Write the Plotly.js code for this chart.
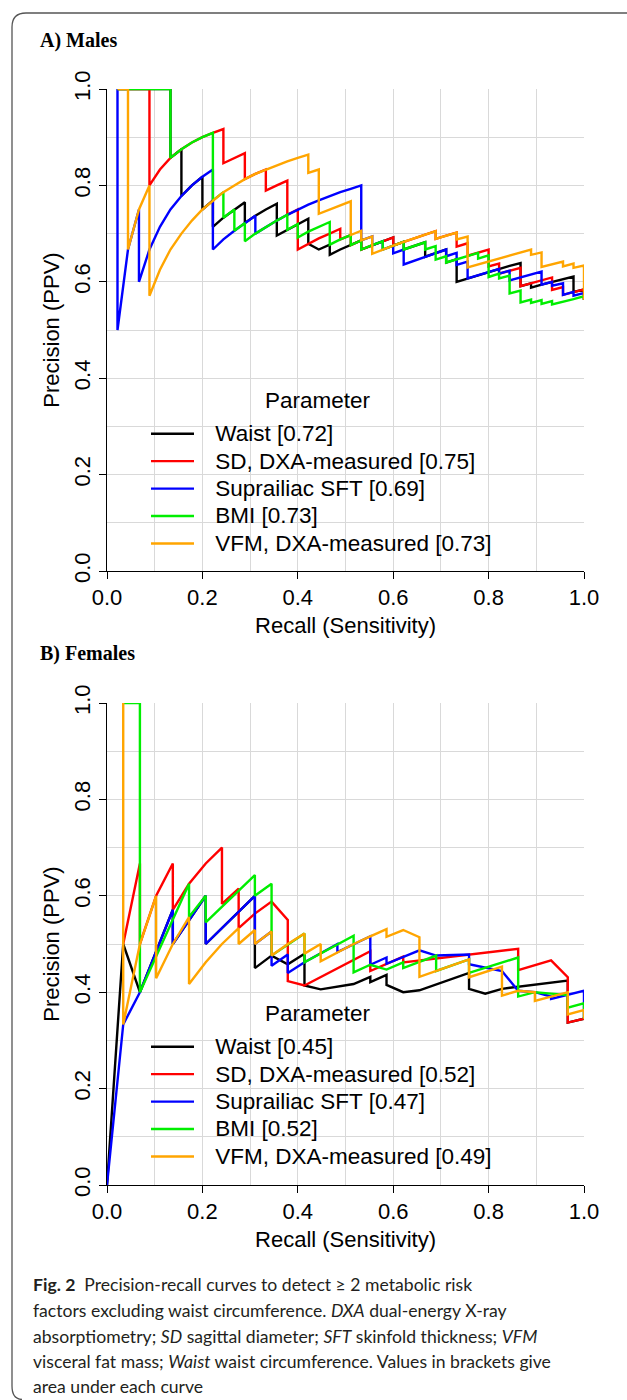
<!DOCTYPE html>
<html>
<head>
<meta charset="utf-8">
<script src="https://cdn.plot.ly/plotly-3.0.1.min.js"></script>
<style>html,body{margin:0;padding:0;background:#fff;}#chart{width:627px;height:1400px;}</style>
</head>
<body>
<div id="chart"></div>
<script>
// ---------- Data ----------
const seriesNames = ["Waist", "SD, DXA-measured", "Suprailiac SFT", "BMI", "VFM, DXA-measured"];
const malesAUC = ["0.72", "0.75", "0.69", "0.73", "0.73"];
const femalesAUC = ["0.45", "0.52", "0.47", "0.52", "0.49"];
const xTickLabels = ["0.0", "0.2", "0.4", "0.6", "0.8", "1.0"];
const yTickLabels = ["0.0", "0.2", "0.4", "0.6", "0.8", "1.0"];
const legendTitle = "Parameter";

// A) Males
const malesWaistRecall    = [0.022,0.133,0.133,0.156,0.156,0.178,0.2,0.2,0.222,0.222,0.244,0.267,0.289,0.289,0.311,0.333,0.356,0.356,0.378,0.4,0.422,0.422,0.444,0.467,0.467,0.489,0.511,0.533,0.533,0.556,0.578,0.6,0.6,0.622,0.622,0.644,0.667,0.667,0.689,0.711,0.711,0.733,0.733,0.756,0.778,0.8,0.822,0.844,0.867,0.867,0.889,0.889,0.911,0.933,0.956,0.978,0.978,1,1];
const malesWaistPrecision = [1,1,0.857,0.875,0.778,0.8,0.818,0.75,0.769,0.714,0.733,0.75,0.765,0.722,0.737,0.75,0.762,0.696,0.708,0.72,0.731,0.679,0.667,0.677,0.656,0.667,0.676,0.686,0.667,0.676,0.684,0.692,0.675,0.683,0.667,0.674,0.682,0.652,0.66,0.667,0.64,0.647,0.6,0.607,0.614,0.621,0.627,0.633,0.639,0.591,0.597,0.588,0.594,0.6,0.606,0.611,0.579,0.584,0.563];
const malesSDRecall    = [0.022,0.089,0.089,0.111,0.133,0.156,0.178,0.2,0.222,0.244,0.244,0.267,0.289,0.289,0.311,0.333,0.333,0.356,0.378,0.378,0.4,0.4,0.422,0.444,0.467,0.489,0.489,0.511,0.511,0.533,0.533,0.556,0.578,0.6,0.6,0.622,0.644,0.667,0.689,0.689,0.711,0.733,0.733,0.756,0.756,0.778,0.8,0.8,0.822,0.822,0.844,0.867,0.867,0.889,0.911,0.933,0.933,0.956,0.956,0.978,1,1];
const malesSDPrecision = [1,1,0.8,0.833,0.857,0.875,0.889,0.9,0.909,0.917,0.846,0.857,0.867,0.813,0.824,0.833,0.789,0.8,0.81,0.739,0.75,0.667,0.679,0.69,0.7,0.71,0.688,0.697,0.676,0.686,0.667,0.676,0.684,0.692,0.675,0.683,0.69,0.698,0.705,0.689,0.696,0.702,0.673,0.68,0.654,0.66,0.667,0.632,0.638,0.617,0.623,0.629,0.591,0.597,0.603,0.609,0.583,0.589,0.573,0.579,0.584,0.563];
const malesSFTRecall    = [0.022,0.022,0.044,0.067,0.067,0.089,0.111,0.133,0.156,0.178,0.2,0.222,0.222,0.244,0.267,0.289,0.311,0.311,0.333,0.356,0.378,0.4,0.422,0.444,0.467,0.489,0.511,0.533,0.533,0.556,0.556,0.578,0.578,0.6,0.6,0.622,0.622,0.644,0.667,0.689,0.711,0.711,0.733,0.733,0.756,0.756,0.778,0.8,0.822,0.822,0.844,0.844,0.867,0.889,0.911,0.911,0.933,0.933,0.956,0.956,0.978,0.978,1,1];
const malesSFTPrecision = [1,0.5,0.667,0.75,0.6,0.667,0.714,0.75,0.778,0.8,0.818,0.833,0.667,0.688,0.706,0.722,0.737,0.7,0.714,0.727,0.739,0.75,0.76,0.769,0.778,0.786,0.793,0.8,0.686,0.694,0.676,0.684,0.667,0.675,0.659,0.667,0.636,0.644,0.652,0.66,0.667,0.653,0.66,0.635,0.642,0.607,0.614,0.621,0.627,0.617,0.623,0.603,0.609,0.615,0.621,0.594,0.6,0.592,0.597,0.573,0.579,0.571,0.577,0.563];
const malesBMIRecall    = [0.022,0.133,0.133,0.156,0.178,0.2,0.222,0.222,0.244,0.244,0.267,0.267,0.289,0.289,0.311,0.333,0.356,0.378,0.378,0.4,0.4,0.422,0.444,0.467,0.467,0.489,0.511,0.511,0.533,0.533,0.556,0.578,0.578,0.6,0.622,0.622,0.644,0.667,0.667,0.689,0.689,0.711,0.711,0.733,0.756,0.778,0.778,0.8,0.8,0.822,0.822,0.844,0.844,0.867,0.867,0.889,0.889,0.911,0.911,0.933,0.933,0.956,0.978,1,1];
const malesBMIPrecision = [1,1,0.857,0.875,0.889,0.9,0.909,0.769,0.786,0.733,0.75,0.706,0.722,0.684,0.7,0.714,0.727,0.739,0.708,0.72,0.692,0.704,0.714,0.724,0.677,0.688,0.697,0.676,0.686,0.667,0.676,0.684,0.667,0.675,0.683,0.667,0.674,0.682,0.667,0.674,0.646,0.653,0.64,0.647,0.654,0.66,0.648,0.655,0.61,0.617,0.607,0.613,0.576,0.582,0.557,0.563,0.556,0.562,0.554,0.56,0.553,0.558,0.564,0.57,0.563];
const malesVFMRecall    = [0.022,0.044,0.044,0.067,0.089,0.089,0.111,0.133,0.156,0.178,0.2,0.222,0.244,0.267,0.289,0.311,0.333,0.356,0.378,0.4,0.422,0.422,0.444,0.444,0.467,0.489,0.511,0.511,0.533,0.533,0.556,0.556,0.578,0.6,0.622,0.644,0.667,0.689,0.689,0.711,0.733,0.733,0.756,0.756,0.778,0.8,0.822,0.844,0.867,0.889,0.889,0.911,0.911,0.933,0.956,0.956,0.978,0.978,1.0,1.0];
const malesVFMPrecision = [1,1,0.667,0.75,0.8,0.571,0.625,0.667,0.7,0.727,0.75,0.769,0.786,0.8,0.813,0.824,0.833,0.842,0.85,0.857,0.864,0.826,0.833,0.741,0.75,0.759,0.767,0.697,0.706,0.686,0.694,0.658,0.667,0.675,0.683,0.69,0.698,0.705,0.689,0.696,0.702,0.688,0.694,0.63,0.636,0.643,0.649,0.655,0.661,0.667,0.656,0.661,0.631,0.636,0.642,0.632,0.638,0.629,0.634,0.563];

// B) Females
const femalesWaistRecall    = [0,0.034,0.069,0.138,0.138,0.207,0.207,0.31,0.31,0.345,0.379,0.414,0.414,0.448,0.517,0.552,0.552,0.586,0.586,0.621,0.655,0.759,0.759,0.793,0.828,0.966,0.966,1];
const femalesWaistPrecision = [0,0.5,0.4,0.571,0.5,0.6,0.5,0.6,0.45,0.476,0.458,0.48,0.414,0.406,0.417,0.432,0.421,0.436,0.415,0.4,0.404,0.44,0.407,0.397,0.407,0.424,0.337,0.345];
const femalesSDRecall    = [0.034,0.069,0.069,0.103,0.138,0.138,0.172,0.207,0.241,0.241,0.276,0.276,0.31,0.345,0.379,0.379,0.414,0.552,0.552,0.621,0.621,0.862,0.862,0.931,0.966,0.966,1];
const femalesSDPrecision = [0.5,0.667,0.5,0.6,0.667,0.571,0.625,0.667,0.7,0.583,0.615,0.533,0.563,0.588,0.55,0.423,0.414,0.485,0.444,0.474,0.462,0.49,0.446,0.466,0.431,0.337,0.345];
const femalesSFTRecall    = [0,0.034,0.069,0.138,0.138,0.207,0.207,0.31,0.31,0.345,0.345,0.379,0.379,0.414,0.483,0.483,0.552,0.552,0.586,0.586,0.655,0.69,0.759,0.759,0.828,0.862,0.897,0.931,0.931,1,1];
const femalesSFTPrecision = [0,0.333,0.4,0.571,0.5,0.6,0.5,0.6,0.5,0.526,0.455,0.478,0.44,0.462,0.5,0.483,0.516,0.457,0.472,0.459,0.487,0.476,0.478,0.458,0.444,0.403,0.4,0.391,0.386,0.403,0.345];
const femalesBMIRecall    = [0.034,0.069,0.069,0.172,0.172,0.207,0.207,0.31,0.31,0.345,0.345,0.414,0.414,0.517,0.517,0.552,0.586,0.621,0.621,0.69,0.69,0.759,0.759,0.862,0.862,0.897,0.931,0.966,0.966,1,1];
const femalesBMIPrecision = [1,1,0.4,0.625,0.556,0.6,0.545,0.643,0.6,0.625,0.476,0.522,0.462,0.517,0.441,0.457,0.447,0.462,0.45,0.476,0.444,0.468,0.44,0.472,0.391,0.4,0.397,0.394,0.368,0.377,0.345];
const femalesVFMRecall    = [0.034,0.034,0.069,0.103,0.103,0.138,0.172,0.172,0.207,0.241,0.276,0.276,0.31,0.31,0.345,0.345,0.379,0.414,0.414,0.448,0.448,0.517,0.552,0.586,0.586,0.621,0.655,0.655,0.759,0.759,0.828,0.828,0.862,0.897,0.897,0.966,0.966,1,1];
const femalesVFMPrecision = [1,0.333,0.5,0.6,0.429,0.5,0.556,0.417,0.462,0.5,0.533,0.5,0.529,0.5,0.526,0.476,0.5,0.522,0.48,0.5,0.464,0.5,0.516,0.531,0.515,0.529,0.514,0.432,0.468,0.431,0.453,0.393,0.403,0.4,0.382,0.4,0.354,0.363,0.345];

const colors = ["#000000", "#ff0000", "#0000ff", "#00ee00", "#ffa500"];

// ---------- Geometry helpers (page px -> paper) ----------
const W = 627, H = 1400;
const px = x => x / W;
const py = y => 1 - y / H;

const malesRecall = [malesWaistRecall, malesSDRecall, malesSFTRecall, malesBMIRecall, malesVFMRecall];
const malesPrecision = [malesWaistPrecision, malesSDPrecision, malesSFTPrecision, malesBMIPrecision, malesVFMPrecision];
const femalesRecall = [femalesWaistRecall, femalesSDRecall, femalesSFTRecall, femalesBMIRecall, femalesVFMRecall];
const femalesPrecision = [femalesWaistPrecision, femalesSDPrecision, femalesSFTPrecision, femalesBMIPrecision, femalesVFMPrecision];

const NB = "\u00a0\u00a0\u2006";
function legendLabel(name, auc) {
  return '<span style="font-size:22.5px">' + NB + name + " [" + auc + "]</span>";
}

const traces = [];
for (let i = 0; i < 5; i++) {
  traces.push({x: malesRecall[i], y: malesPrecision[i], type: "scatter", mode: "lines",
    name: legendLabel(seriesNames[i], malesAUC[i]), line: {color: colors[i], width: 2.4},
    xaxis: "x", yaxis: "y", legend: "legend", hoverinfo: "skip"});
}
for (let i = 0; i < 5; i++) {
  traces.push({x: femalesRecall[i], y: femalesPrecision[i], type: "scatter", mode: "lines",
    name: legendLabel(seriesNames[i], femalesAUC[i]), line: {color: colors[i], width: 2.4},
    xaxis: "x2", yaxis: "y2", legend: "legend2", hoverinfo: "skip"});
}

const axisFont = {family: "Liberation Sans, Arial, sans-serif", size: 22, color: "#000"};
const tickVals = [0, 0.2, 0.4, 0.6, 0.8, 1.0];
const xDomain = [px(107), px(584)];
const gridColor = "#d9d9d9";

function xAxis(anchor) {
  return {domain: xDomain, range: [0, 1], anchor: anchor, tickvals: tickVals, ticktext: xTickLabels,
    ticks: "outside", ticklen: 7, tickwidth: 1, tickcolor: "#000", showline: true, linecolor: "#000", linewidth: 1,
    showgrid: true, gridcolor: gridColor, gridwidth: 1, zeroline: false, tickfont: axisFont,
    minor: {dtick: 0.1, tick0: 0, showgrid: true, gridcolor: gridColor, gridwidth: 1, ticks: ""},
    title: {text: "Recall (Sensitivity)", font: axisFont, standoff: 8}, automargin: false, fixedrange: true};
}
function yAxis(anchor, domain) {
  return {domain: domain, range: [0, 1], anchor: anchor, tickvals: tickVals, ticktext: yTickLabels, tickangle: -90,
    ticks: "outside", ticklen: 7, tickwidth: 1, tickcolor: "#000", showline: true, linecolor: "#000", linewidth: 1,
    showgrid: true, gridcolor: gridColor, gridwidth: 1, zeroline: false, tickfont: axisFont,
    minor: {dtick: 0.1, tick0: 0, showgrid: true, gridcolor: gridColor, gridwidth: 1, ticks: ""},
    title: {text: "Precision (PPV)", font: axisFont, standoff: 4}, automargin: false, fixedrange: true};
}

function legendAt(topPx) {
  return {x: px(146), y: py(topPx), xanchor: "left", yanchor: "top", bgcolor: "rgba(0,0,0,0)", borderwidth: 0,
    font: {family: "Liberation Sans, Arial, sans-serif", size: 18.8, color: "#000"},
    tracegroupgap: 0, itemwidth: 43, traceorder: "normal"};
}

const capFont = {family: "Lato, Open Sans, sans-serif", size: 17.6, color: "#231f20"};
const captionLines = [
  "<b>Fig. 2</b>  Precision-recall curves to detect \u2265 2 metabolic risk",
  "factors excluding waist circumference. <i>DXA</i> dual-energy X-ray",
  "absorptiometry; <i>SD</i> sagittal diameter; <i>SFT</i> skinfold thickness; <i>VFM</i>",
  "visceral fat mass; <i>Waist</i> waist circumference. Values in brackets give",
  "area under each curve"
];
const captionY = [1284, 1310, 1336, 1361, 1386];

const panelFont = {family: "Liberation Serif, Times New Roman, serif", size: 20, color: "#000"};
const legendTitleFont = {family: "Liberation Sans, Arial, sans-serif", size: 22.5, color: "#000"};
const annotations = [
  {text: "<b>A) Males</b>", x: px(38), y: py(41), xref: "paper", yref: "paper", xanchor: "left", yanchor: "middle",
   showarrow: false, font: panelFont},
  {text: "<b>B) Females</b>", x: px(38), y: py(654), xref: "paper", yref: "paper", xanchor: "left", yanchor: "middle",
   showarrow: false, font: panelFont},
  {text: legendTitle, x: px(318), y: py(400), xref: "paper", yref: "paper", xanchor: "center", yanchor: "middle",
   showarrow: false, font: legendTitleFont},
  {text: legendTitle, x: px(318), y: py(1013), xref: "paper", yref: "paper", xanchor: "center", yanchor: "middle",
   showarrow: false, font: legendTitleFont}
];
captionLines.forEach((t, i) => annotations.push({text: t, x: px(31), y: py(captionY[i]), xref: "paper", yref: "paper",
  xanchor: "left", yanchor: "middle", showarrow: false, align: "left", font: capFont}));

// Rounded frame (open on right/bottom like the journal figure box)
const frame = "M " + px(627) + "," + py(13) + " L " + px(26) + "," + py(13) +
  " Q " + px(12) + "," + py(13) + " " + px(12) + "," + py(27) +
  " L " + px(12) + "," + py(1386) + " Q " + px(12) + "," + py(1399) + " " + px(22) + "," + py(1399.5);

const layout = {
  width: W, height: H, margin: {l: 0, r: 0, t: 0, b: 0}, paper_bgcolor: "#fff", plot_bgcolor: "rgba(0,0,0,0)",
  showlegend: true,
  xaxis: xAxis("y"), yaxis: yAxis("x", [py(571), py(89)]),
  xaxis2: xAxis("y2"), yaxis2: yAxis("x2", [py(1185), py(703)]),
  legend: legendAt(415), legend2: legendAt(1028),
  annotations: annotations,
  shapes: [{type: "path", path: frame, xref: "paper", yref: "paper", line: {color: "#555", width: 1.3}}]
};

Plotly.newPlot("chart", traces, layout, {staticPlot: true, displayModeBar: false});
</script>
</body>
</html>
